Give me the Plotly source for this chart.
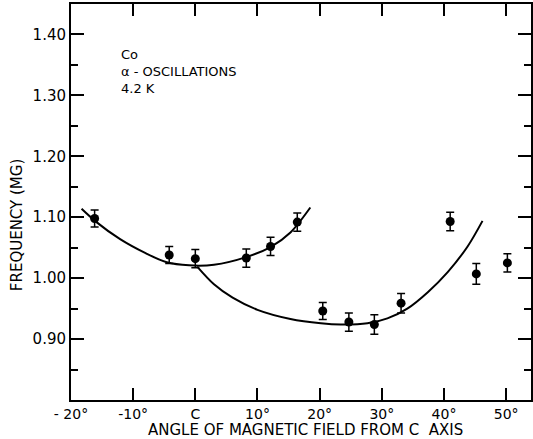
import plotly.graph_objects as go

# Measured points (angle in degrees, frequency in MG, error half-width)
angles = [-16.2, -4.2, 0.0, 8.2, 12.1, 16.4, 20.5, 24.7, 28.8, 33.1, 41.0, 45.2, 50.2]
freqs = [1.098, 1.038, 1.032, 1.033, 1.052, 1.092, 0.946, 0.928, 0.924, 0.959, 1.093, 1.007, 1.025]
errs = [0.014, 0.014, 0.015, 0.015, 0.015, 0.015, 0.014, 0.015, 0.016, 0.016, 0.015, 0.017, 0.015]

# Hand-drawn curves
curve_a_x = [-18.3, -15.9, -12.1, -8.0, -4.6, -1.0, 3.0, 8.3, 12.1, 15.3, 18.5]
curve_a_y = [1.114, 1.092, 1.064, 1.041, 1.026, 1.021, 1.022, 1.035, 1.051, 1.075, 1.116]
curve_b_x = [0.3, 3.0, 6.0, 10.0, 15.3, 20.2, 23.4, 27.7, 30.9, 34.1, 37.4, 40.6, 43.8, 46.2]
curve_b_y = [1.019, 0.990, 0.968, 0.948, 0.933, 0.926, 0.924, 0.926, 0.934, 0.950, 0.977, 1.010, 1.052, 1.094]

x_tickvals = [-20, -10, 0, 10, 20, 30, 40, 50]
x_ticktext = ["- 20°", "-10°", "C", "10°", "20°", "30°", "40°", "50°"]
y_tickvals = [0.90, 1.00, 1.10, 1.20, 1.30, 1.40]
y_ticktext = ["0.90", "1.00", "1.10", "1.20", "1.30", "1.40"]

FONT = "DejaVu Sans"

fig = go.Figure()
for cx, cy in [(curve_a_x, curve_a_y), (curve_b_x, curve_b_y)]:
    fig.add_trace(go.Scatter(x=cx, y=cy, mode="lines",
                             line=dict(color="black", width=2, shape="spline", smoothing=0.9),
                             showlegend=False, hoverinfo="skip"))

fig.add_trace(go.Scatter(
    x=angles, y=freqs, mode="markers",
    marker=dict(color="black", size=9),
    error_y=dict(type="data", array=errs, visible=True, color="black", thickness=1.5, width=4),
    showlegend=False))

fig.add_annotation(x=0.104, y=0.896, xref="paper", yref="paper", xanchor="left", yanchor="top",
                   text="Co<br>α - OSCILLATIONS<br>4.2 K", showarrow=False, align="left",
                   font=dict(family=FONT, size=13, color="black"))
fig.add_annotation(x=0.509, y=-0.0765, xref="paper", yref="paper", xanchor="center", yanchor="middle",
                   text="ANGLE OF MAGNETIC FIELD FROM C  AXIS", showarrow=False,
                   font=dict(family=FONT, size=15, color="black"))
fig.add_annotation(x=-0.117, y=0.442, xref="paper", yref="paper", xanchor="center", yanchor="middle",
                   text="FREQUENCY (MG)", showarrow=False, textangle=-90,
                   font=dict(family=FONT, size=15, color="black"))

fig.update_xaxes(range=[-20, 54], tickvals=x_tickvals, ticktext=x_ticktext,
                 ticks="inside", ticklen=12, tickwidth=2, tickcolor="black",
                 showline=True, linewidth=2, linecolor="black", mirror="ticks",
                 showgrid=False, zeroline=False, automargin=False,
                 tickfont=dict(family=FONT, size=14, color="black"))
fig.update_yaxes(range=[0.80, 1.45], tickvals=y_tickvals, ticktext=y_ticktext,
                 ticks="inside", ticklen=13, tickwidth=2, tickcolor="black",
                 minor=dict(dtick=0.05, tick0=0.85, ticks="inside", ticklen=7, tickwidth=2, tickcolor="black"),
                 showline=True, linewidth=2, linecolor="black", mirror="ticks",
                 showgrid=False, zeroline=False, automargin=False,
                 tickfont=dict(family=FONT, size=15, color="black"))

fig.update_layout(width=533, height=439, margin=dict(l=71, r=2, t=4, b=39),
                  plot_bgcolor="white", paper_bgcolor="white")

fig.write_html("out.html", config={"displayModeBar": False},
               post_script="document.body.style.margin='0px';")
